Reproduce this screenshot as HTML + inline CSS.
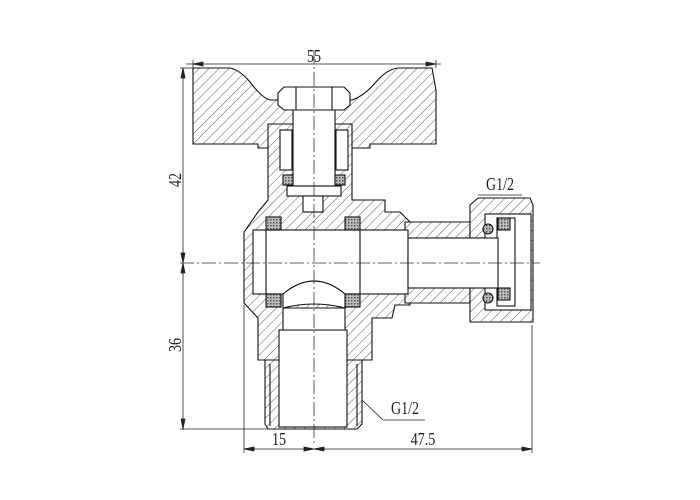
<!DOCTYPE html>
<html><head><meta charset="utf-8"><style>
html,body{margin:0;padding:0;background:#fff;width:700px;height:500px;overflow:hidden}
svg text{font-family:"Liberation Serif",serif;fill:#222}
</style></head><body>
<svg width="700" height="500" viewBox="0 0 700 500" xmlns="http://www.w3.org/2000/svg">
<defs>
<pattern id="h" width="7" height="7" patternUnits="userSpaceOnUse" patternTransform="rotate(45)">
<rect width="7" height="7" fill="#fff"/><line x1="0" y1="0" x2="0" y2="7" stroke="#333" stroke-width="0.8"/></pattern>
<pattern id="x" width="3" height="3" patternUnits="userSpaceOnUse">
<rect width="3" height="3" fill="#bbb"/><rect width="1.5" height="1.5" fill="#555"/></pattern>
</defs>
<g stroke="#111" stroke-width="1.1" fill="none">
<path d="M193,68 L230,68 Q240,70 250,82 Q262,98 270,100 L352,100 Q364,96 376,82 Q388,68 400,68 L432,68 L436,90 L436,144 L370,144 L370,148 L258,148 L258,144 L193,144 Z" fill="url(#h)"/>
<path d="M268,124 L352,124 L352,200 L385,200 L385,212 L400,212 L410,222 L410,305 L395,305 L392,318 L372,318 L372,360 L258,360 L258,318 L244,303 L244,232 L258,212 L268,200 Z" fill="url(#h)"/>
<path d="M405,222 L470,222 L470,303 L405,303 Z" fill="url(#h)"/>
<path d="M470,205 L478,198 L530,198 L533,205 L533,322 L470,322 Z" fill="url(#h)"/>
<rect x="485" y="214" width="46" height="96" fill="#fff"/>
<rect x="497" y="218" width="18" height="88" fill="#fff"/>
<rect x="498" y="218" width="12" height="12" fill="url(#x)"/>
<rect x="498" y="288" width="12" height="12" fill="url(#x)"/>
<circle cx="488" cy="229" r="5" fill="url(#x)"/>
<circle cx="488" cy="298" r="5" fill="url(#x)"/>
<path d="M265,360 L362,360 L362,424 L357,429 L268,429 L265,424 Z" fill="url(#h)"/>
<line x1="270" y1="364" x2="270" y2="426"/><line x1="357" y1="364" x2="357" y2="426"/>
<rect x="279" y="330" width="68" height="97" fill="#fff"/>
<rect x="253" y="230" width="155" height="64" fill="#fff"/>
<rect x="408" y="238" width="90" height="50" fill="#fff"/>
<line x1="266" y1="230" x2="266" y2="294"/><line x1="360" y1="230" x2="360" y2="294"/>
<rect x="266" y="217" width="15" height="13" fill="url(#x)"/>
<rect x="345" y="217" width="15" height="13" fill="url(#x)"/>
<rect x="266" y="294" width="15" height="13" fill="url(#x)"/>
<rect x="345" y="294" width="15" height="13" fill="url(#x)"/>
<path d="M283,294 Q314,268 345,294 L345,308 Q314,300 283,308 Z" fill="#fff"/>
<path d="M283,308 L345,308 L345,330 L283,330 Z" fill="#fff"/>
<rect x="293" y="108" width="42" height="78" fill="#fff"/>
<rect x="287" y="186" width="54" height="10" fill="#fff"/>
<rect x="303" y="196" width="20" height="16" fill="#fff"/>
<rect x="283" y="175" width="10" height="10" fill="url(#x)"/>
<rect x="335" y="175" width="10" height="10" fill="url(#x)"/>
<rect x="280" y="130" width="12" height="40" fill="#fff"/>
<rect x="336" y="130" width="12" height="40" fill="#fff"/>
<path d="M278,93 L284,87 L344,87 L350,93 L350,105 L344,110 L284,110 L278,105 Z" fill="#fff"/>
<line x1="296" y1="87" x2="296" y2="110"/><line x1="332" y1="87" x2="332" y2="110"/>
</g>
<g stroke="#333" stroke-width="0.8" stroke-dasharray="14,3,2,3" fill="none">
<line x1="314" y1="50" x2="314" y2="445"/>
<line x1="180" y1="263" x2="540" y2="263"/>
</g>
<g stroke="#222" stroke-width="0.8" fill="#222">
<line x1="186" y1="64" x2="441" y2="64"/>
<line x1="193" y1="60" x2="193" y2="68"/><line x1="436" y1="60" x2="436" y2="68"/>
<line x1="183" y1="68" x2="183" y2="430"/>
<line x1="180" y1="68" x2="193" y2="68"/>
<line x1="180" y1="429" x2="268" y2="429"/>
<line x1="244" y1="305" x2="244" y2="453"/>
<line x1="532" y1="325" x2="532" y2="453"/>
<line x1="244" y1="449" x2="532" y2="449"/>
<path d="M244,449 l10,-2 v4z M314,449 l-10,-2 v4z M314,449 l10,-2 v4z M532,449 l-10,-2 v4z M193,64 l10,-2 v4z M436,64 l-10,-2 v4z M183,68 l-2,10 h4z M183,263 l-2,-10 h4z M183,263 l-2,10 h4z M183,429 l-2,-10 h4z"/>
<line x1="362" y1="400" x2="383" y2="420" fill="none"/>
<line x1="383" y1="420" x2="425" y2="420" fill="none"/>
<line x1="478" y1="195" x2="522" y2="195" fill="none"/>
</g>
<g font-size="18">
<text transform="translate(314,62) scale(0.78,1)" text-anchor="middle">55</text>
<text transform="translate(500,190) scale(0.78,1)" text-anchor="middle">G1/2</text>
<text transform="translate(405,414) scale(0.78,1)" text-anchor="middle">G1/2</text>
<text transform="translate(279,445) scale(0.78,1)" text-anchor="middle">15</text>
<text transform="translate(423,445) scale(0.78,1)" text-anchor="middle">47.5</text>
<text transform="translate(181,180) rotate(-90) scale(0.78,1)" text-anchor="middle">42</text>
<text transform="translate(181,345) rotate(-90) scale(0.78,1)" text-anchor="middle">36</text>
</g>
</svg>
</body></html>
